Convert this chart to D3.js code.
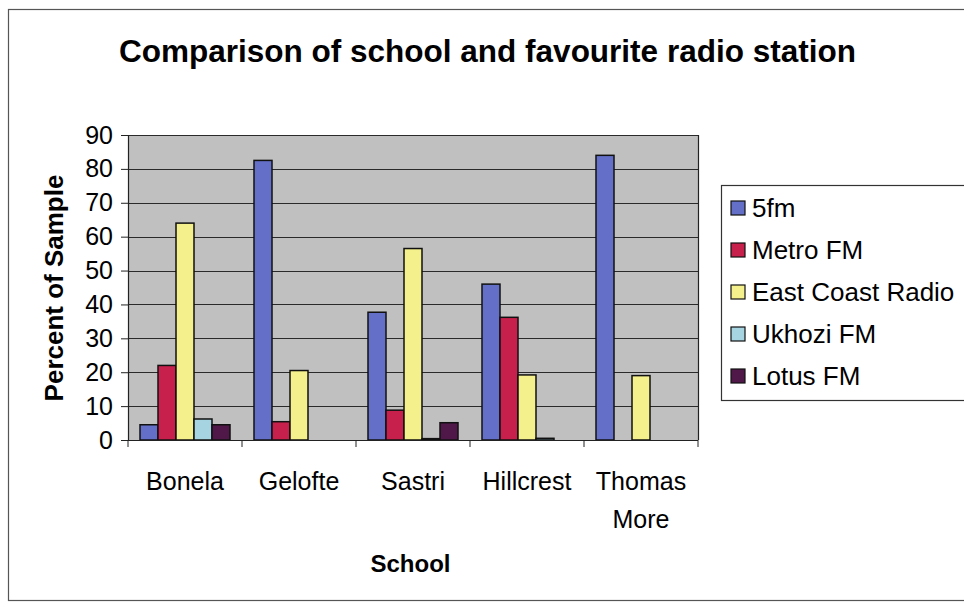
<!DOCTYPE html>
<html><head><meta charset="utf-8">
<script src="https://cdn.jsdelivr.net/npm/d3@7"></script>
<style>body{margin:0;background:#fff;overflow:hidden}svg{display:block}text{font-family:"Liberation Sans",Arial,sans-serif;fill:#000}</style>
</head><body>
<script>
const schools = ["Bonela", "Gelofte", "Sastri", "Hillcrest", "Thomas More"];
const stations = ["5fm", "Metro FM", "East Coast Radio", "Ukhozi FM", "Lotus FM"];
const fm5 = [4.5, 82.5, 37.7, 46, 84];
const metroFM = [22, 5.4, 8.8, 36.2, 0];
const eastCoast = [64, 20.5, 56.5, 19.2, 19];
const ukhozi = [6.2, 0, 0.4, 0.5, 0];
const lotus = [4.5, 0, 5.1, 0, 0];
const yTicks = [0, 10, 20, 30, 40, 50, 60, 70, 80, 90];
const colors = ["#6470c8", "#c8204c", "#f4f08c", "#a6d4e0", "#501848"];

const series = [fm5, metroFM, eastCoast, ukhozi, lotus];
const W = 964, H = 608;
const svg = d3.select("body").append("svg").attr("width", W).attr("height", H);

// outer chart border
svg.append("rect").attr("x", 8.5).attr("y", 9.5).attr("width", 962).attr("height", 591)
  .attr("fill", "#fff").attr("stroke", "#555").attr("stroke-width", 1.2);

const m = {l: 128, r: 698, t: 135, b: 440};
const x0 = d3.scaleBand().domain(schools).range([m.l, m.r]).paddingInner(24/114).paddingOuter(12/114);
const x1 = d3.scaleBand().domain(stations).range([0, x0.bandwidth()]);
const y = d3.scaleLinear().domain([0, 90]).range([m.b, m.t]);

// plot background
svg.append("rect").attr("x", m.l).attr("y", m.t).attr("width", m.r - m.l).attr("height", m.b - m.t)
  .attr("fill", "#c0c0c0");

// gridlines
svg.append("g").selectAll("line").data(yTicks.filter(d => d > 0)).join("line")
  .attr("x1", m.l).attr("x2", m.r).attr("y1", d => Math.round(y(d)) + 0.5).attr("y2", d => Math.round(y(d)) + 0.5)
  .attr("stroke", "#2a2a2a").attr("stroke-width", 1);
svg.append("line").attr("x1", m.r + 0.5).attr("x2", m.r + 0.5).attr("y1", m.t).attr("y2", m.b)
  .attr("stroke", "#222").attr("stroke-width", 1.2);

// bars
const g = svg.append("g");
schools.forEach((s, i) => {
  series.forEach((arr, j) => {
    const v = arr[i];
    g.append("rect")
      .attr("x", x0(s) + x1(stations[j]))
      .attr("y", y(v))
      .attr("width", x1.bandwidth())
      .attr("height", Math.max(0, y(0) - y(v)))
      .attr("fill", colors[j]).attr("stroke", "#111").attr("stroke-width", 1.5);
  });
});

// y axis
const yAxis = d3.axisLeft(y).tickValues(yTicks).tickSize(7).tickPadding(8);
const ya = svg.append("g").attr("transform", `translate(${m.l},0)`).call(yAxis);
ya.select(".domain").attr("stroke", "#222").attr("stroke-width", 1.2);
ya.selectAll(".tick line").attr("stroke", "#222");
ya.selectAll(".tick text").style("font-size", "25px").attr("font-family", "Liberation Sans, Arial, sans-serif").attr("fill", "#000");

// x axis
const xa = svg.append("g").attr("transform", `translate(0,${m.b})`);
xa.append("line").attr("x1", m.l).attr("x2", m.r).attr("y1", 0.5).attr("y2", 0.5).attr("stroke", "#222").attr("stroke-width", 1.2);
const bounds = schools.map(s => x0(s) - x0.step() * x0.paddingInner() / 2).concat([m.r]);
xa.selectAll("line.tk").data(bounds).join("line").attr("class", "tk")
  .attr("x1", d => d).attr("x2", d => d).attr("y1", 0).attr("y2", 7).attr("stroke", "#222");
schools.forEach(s => {
  const words = s.split(" ");
  const t = xa.append("text").attr("text-anchor", "middle").style("font-size", "25px")
    .attr("x", x0(s) + x0.bandwidth() / 2).attr("y", 50);
  words.forEach((w, k) => t.append("tspan").attr("x", x0(s) + x0.bandwidth() / 2).attr("dy", k === 0 ? 0 : 38).text(w));
});

// titles
svg.append("text").attr("x", 487.5).attr("y", 62).attr("text-anchor", "middle")
  .style("font-size", "31.5px").style("font-weight", "bold").text("Comparison of school and favourite radio station");
svg.append("text").attr("x", 410.5).attr("y", 572).attr("text-anchor", "middle")
  .style("font-size", "24px").style("font-weight", "bold").text("School");
svg.append("text").attr("transform", `translate(63,288) rotate(-90)`).attr("text-anchor", "middle")
  .style("font-size", "26px").style("font-weight", "bold").text("Percent of Sample");

// legend
const lg = svg.append("g");
lg.append("rect").attr("x", 721.5).attr("y", 185.5).attr("width", 260).attr("height", 215)
  .attr("fill", "#fff").attr("stroke", "#333").attr("stroke-width", 1.2);
stations.forEach((st, j) => {
  const cy = 208 + j * 42;
  lg.append("rect").attr("x", 731).attr("y", cy - 7).attr("width", 14).attr("height", 14)
    .attr("fill", colors[j]).attr("stroke", "#111").attr("stroke-width", 1.2);
  lg.append("text").attr("x", 752).attr("y", cy + 9).style("font-size", "26px").text(st);
});
</script>
</body></html>
